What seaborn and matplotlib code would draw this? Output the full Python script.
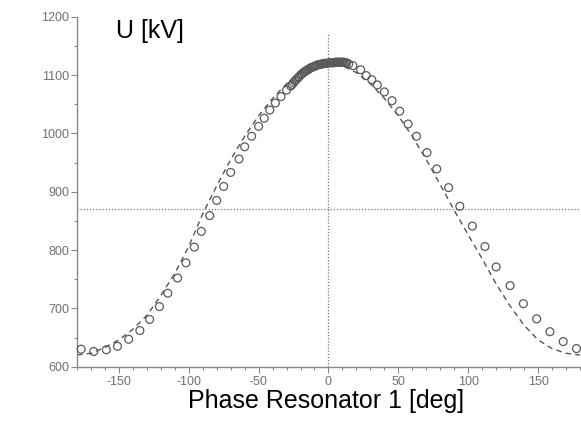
import numpy as np
import pandas as pd
import seaborn as sns
import matplotlib.pyplot as plt
from matplotlib.ticker import MultipleLocator

phase_meas = [-177, -168, -159, -151, -143, -135, -128, -121, -115, -108,
              -102, -96, -91, -85, -80, -75, -70, -64, -60, -55,
              -50, -46, -42, -38, -34, -30, -27,
              -26, -25, -24, -23, -22, -21, -20, -19, -18, -17,
              -16, -15, -14, -13, -12, -11, -10, -9, -8, -7,
              -6, -5, -4, -3, -2, -1, 0, 1, 2, 3,
              4, 5, 6, 7, 8, 9, 10, 11, 12, 13,
              14.5, 17.5, 23, 27, 31, 35, 40, 45.5, 51, 57,
              63, 70.5, 77.5, 86, 94, 103, 112, 120, 130, 139.5,
              149, 158.5, 168, 177.5]
u_meas = [630, 626, 629, 635, 647, 662, 681, 703, 726, 752,
          778, 805, 832, 859, 885, 909, 933, 956, 977, 995,
          1012, 1026, 1040, 1052, 1063, 1074, 1081,
          1084, 1087, 1090, 1092, 1095, 1097, 1100, 1102, 1104, 1106,
          1107, 1109, 1110, 1112, 1113, 1114, 1115, 1116, 1117, 1118,
          1118, 1119, 1119, 1120, 1120, 1120, 1121, 1121, 1121, 1121,
          1121, 1122, 1122, 1122, 1122, 1122, 1122, 1122, 1121, 1121,
          1119, 1116, 1109, 1099, 1092, 1083, 1071, 1056, 1038, 1016,
          995, 967, 939, 907, 875, 841, 806, 771, 739, 708,
          682, 660, 643, 631]

# simulated curve (dashed), read every 10 deg
phase_sim = [-180, -170, -160, -150, -140, -130, -120, -110, -100, -90,
             -80, -70, -60, -50, -40, -30, -20, -10, 0, 10,
             20, 30, 40, 50, 60, 70, 80, 90, 100, 110,
             120, 130, 140, 150, 160, 170, 180]
u_sim = [620, 623, 633, 646, 664, 688, 722, 760, 806, 862,
         910, 955, 995, 1030, 1060, 1085, 1104, 1116, 1120, 1116,
         1104, 1085, 1060, 1030, 995, 955, 912, 868, 826, 785,
         742, 704, 671, 646, 631, 623, 620]

ref_level = 870
ref_phase = 0
ref_top = 1171

x_ticks = [-150, -100, -50, 0, 50, 100, 150]
x_labels = ["-150", "-100", "-50", "0", "50", "100", "150"]
y_ticks = [600, 700, 800, 900, 1000, 1100, 1200]
y_labels = ["600", "700", "800", "900", "1000", "1100", "1200"]

sns.set_style("white")
plt.rcParams['font.family'] = ['Liberation Sans', 'DejaVu Sans']
plt.rcParams['axes.unicode_minus'] = False

meas = pd.DataFrame({"phase": phase_meas, "U": u_meas})
sim = pd.DataFrame({"phase": phase_sim, "U": u_sim})

fig = plt.figure(figsize=(5.81, 4.21), dpi=100)
ax = fig.add_axes([0.1325, 0.129, 0.8657, 0.8314])

# reference lines
ax.axhline(ref_level, color="#777777", lw=0.9, ls=(0, (1, 1.5)), zorder=1)
ax.vlines(ref_phase, 600, ref_top, color="#777777", lw=0.9, ls=(0, (1, 1.5)), zorder=1)

sns.lineplot(data=sim, x="phase", y="U", ax=ax, color="#555555", lw=1.0,
             linestyle=(0, (4, 3)), sort=False, zorder=2)
sns.scatterplot(data=meas, x="phase", y="U", ax=ax, marker="o", s=32,
                facecolor="none", edgecolor="#5a5a5a", linewidth=0.9,
                zorder=3, clip_on=False)

ax.set_xlim(-180, 180)
ax.set_ylim(600, 1200)
ax.set_xticks(x_ticks)
ax.set_xticklabels(x_labels)
ax.set_yticks(y_ticks)
ax.set_yticklabels(y_labels)
ax.xaxis.set_minor_locator(MultipleLocator(10))
ax.yaxis.set_minor_locator(MultipleLocator(50))
ax.tick_params(which="both", direction="out", color="#888888", labelcolor="#707070",
               labelsize=9, bottom=True, left=True)
ax.tick_params(which="major", length=4, width=0.8)
ax.tick_params(which="minor", length=2.5, width=0.8)
ax.tick_params(axis="x", pad=3)
ax.tick_params(axis="y", pad=1.5)
ax.set_xlabel("")
ax.set_ylabel("")

sns.despine(ax=ax, top=True, right=True)
for side in ["left", "bottom"]:
    ax.spines[side].set_color("#888888")
    ax.spines[side].set_linewidth(1.0)

fig.text(116 / 581, 1 - 31 / 421, "U [kV]", fontsize=18, color="black",
         ha="left", va="center")
fig.text(326 / 581, 1 - 401 / 421, "Phase Resonator 1 [deg]", fontsize=18,
         color="black", ha="center", va="center")

fig.savefig("out.png", dpi=100)
